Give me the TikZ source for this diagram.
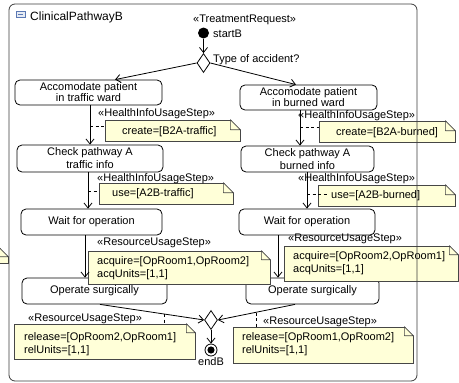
\documentclass[tikz,border=0pt]{standalone}
\usepackage{fontspec}
\setmainfont{Liberation Sans}
\usetikzlibrary{arrows.meta,shapes.geometric}

\definecolor{notefill}{RGB}{255,255,216}
\definecolor{noteline}{RGB}{70,70,70}
\definecolor{frameline}{RGB}{60,60,60}
\definecolor{iconblue}{RGB}{90,120,180}

% folded top-right corner of a note node (#1 = node name, #2 = fold size in pt)
\newcommand\notecorner[2]{%
  \fill[white] ([xshift=-#2pt,yshift=0.6pt]#1.north east) -- ([xshift=0.6pt,yshift=0.6pt]#1.north east)
      -- ([xshift=0.6pt,yshift=-#2pt]#1.north east) -- cycle;
  \draw[noteline,line width=0.6pt,line join=round]
      ([xshift=-#2pt]#1.north east) -- ([yshift=-#2pt]#1.north east)
      -- ([xshift=-#2pt,yshift=-#2pt]#1.north east) -- cycle;
}

\tikzset{
  every node/.style={inner sep=0pt, font=\fontsize{11}{12}\selectfont},
  actbox/.style={draw=black, fill=white, rounded corners=5pt, line width=0.8pt,
                 align=center, font=\fontsize{11}{11}\selectfont},
  notebox/.style={draw=noteline, fill=notefill, line width=0.6pt},
  txt/.style={anchor=base west},
  flow/.style={draw=black, line width=0.8pt, -{Straight Barb[length=5pt,width=8pt,line width=0.8pt]}},
  dep/.style={draw=black, line width=0.7pt, dash pattern=on 3pt off 2.5pt},
  decision/.style={diamond, draw=black, fill=white, line width=0.8pt,
                   minimum width=13pt, minimum height=19pt},
}

\begin{document}
\begin{tikzpicture}[x=1pt,y=-1pt]
\useasboundingbox (0,0) rectangle (459,383);

% ---- notes (drawn first, boxes and frame lie over them where they meet)
\node[notebox, minimum width=30pt, minimum height=15pt] (n0) at (-7,255.5) {};
\notecorner{n0}{9}

\node[notebox, minimum width=135pt, minimum height=21pt] (n1) at (172.5,130.5) {};
\notecorner{n1}{10}
\node[notebox, minimum width=136pt, minimum height=21pt] (n2) at (387,131.5) {};
\notecorner{n2}{10}
\node[notebox, minimum width=134pt, minimum height=21pt] (n3) at (166,193.5) {};
\notecorner{n3}{10}
\node[notebox, minimum width=137pt, minimum height=21pt] (n4) at (386.5,195.5) {};
\notecorner{n4}{10}

% ---- action nodes
\node[actbox, minimum width=147pt, minimum height=25pt] (a1) at (88.5,92.5)
  {Accomodate patient\\in traffic ward};
\node[actbox, minimum width=137pt, minimum height=25pt] (b1) at (308.5,97.5)
  {Accomodate patient\\in burned ward};
\node[actbox, minimum width=146pt, minimum height=27pt, font=\fontsize{11}{13}\selectfont]
  (a2) at (90,158.5) {Check pathway A\\traffic info};
\node[actbox, minimum width=133pt, minimum height=26pt, font=\fontsize{11}{13}\selectfont]
  (b2) at (307.5,159) {Check pathway A\\burned info};
\node[actbox, minimum width=141pt, minimum height=26pt] (a3) at (91.5,222) {Wait for operation};
\node[actbox, minimum width=136pt, minimum height=26pt] (b3) at (307,222) {Wait for operation};
\node[actbox, minimum width=145pt, minimum height=26pt] (a4) at (94.5,291) {Operate surgically};
\node[actbox, minimum width=133pt, minimum height=26pt] (b4) at (312.5,291) {Operate surgically};

% resource notes lie over the top of the "Operate surgically" boxes
\node[notebox, minimum width=182pt, minimum height=33pt] (n5) at (179,267.5) {};
\notecorner{n5}{9}
\node[notebox, minimum width=174pt, minimum height=35pt] (n6) at (371,263.5) {};
\notecorner{n6}{9}
\node[notebox, minimum width=181pt, minimum height=35pt] (n7) at (104.5,341.5) {};
\notecorner{n7}{9}
\node[notebox, minimum width=180pt, minimum height=36pt] (n8) at (323,345) {};
\notecorner{n8}{9}

% ---- note texts
\node[txt] (t1) at (122,134) {create=[B2A-traffic]};
\node[txt] (t2) at (336,135) {create=[B2A-burned]};
\node[txt] (t3) at (112,196) {use=[A2B-traffic]};
\node[txt] (t4) at (331,198) {use=[A2B-burned]};
\node[txt] (t5a) at (97,264) {acquire=[OpRoom1,OpRoom2]};
\node[txt] (t5b) at (97,277) {acqUnits=[1,1]};
\node[txt] (t6a) at (293,259) {acquire=[OpRoom2,OpRoom1]};
\node[txt] (t6b) at (293,272) {acqUnits=[1,1]};
\node[txt] (t7a) at (24,340) {release=[OpRoom2,OpRoom1]};
\node[txt] (t7b) at (24,353) {relUnits=[1,1]};
\node[txt] (t8a) at (242,340) {release=[OpRoom1,OpRoom2]};
\node[txt] (t8b) at (242,353) {relUnits=[1,1]};

% ---- stereotype labels
\node[txt] (s1) at (98,116) {«HealthInfoUsageStep»};
\node[txt] (s2) at (298,118) {«HealthInfoUsageStep»};
\node[txt] (s3) at (97,181) {«HealthInfoUsageStep»};
\node[txt] (s4) at (298,181) {«HealthInfoUsageStep»};
\node[txt] (s5) at (97,245) {«ResourceUsageStep»};
\node[txt] (s6) at (288,241) {«ResourceUsageStep»};
\node[txt] (s7) at (28,321) {«ResourceUsageStep»};
\node[txt] (s8) at (263,324) {«ResourceUsageStep»};

% ---- control nodes
\node[txt] (trq) at (193,22) {«TreatmentRequest»};
\node[circle, fill=black, minimum size=11pt] (start) at (203.5,33) {};
\node[txt] (startlbl) at (213,37) {startB};
\node[decision] (d1) at (203.5,63) {};
\node[txt] (q) at (213,62) {Type of accident?};
\node[decision] (m1) at (211,320) {};
\node[circle, draw=black, fill=white, line width=0.8pt, minimum size=12pt] (end) at (211,350) {};
\fill[black] (end.center) circle (3.6pt);
\node[anchor=base] (endlbl) at (211,365) {endB};

% ---- control flows
\draw[flow] (start) -- (d1);
\draw[flow] (d1.west) -- ([xshift=26.5pt]a1.north);
\draw[flow] (d1.east) -- ([xshift=-12.5pt]b1.north);
\draw[flow] ([xshift=1.5pt]a1.south) -- (a2.north);
\draw[flow] ([xshift=-2pt]a2.south) -- ([xshift=-3.5pt]a3.north);
\draw[flow] ([xshift=-6.5pt]a3.south) -- ([xshift=-9.5pt]a4.north);
\draw[flow] ([xshift=-8.5pt]b1.south) -- ([xshift=-7.5pt]b2.north);
\draw[flow] ([xshift=-0.5pt]b2.south) -- (b3.north);
\draw[flow] ([xshift=-29pt]b3.south) -- ([xshift=-34.5pt]b4.north);
\draw[flow] ([xshift=5.5pt]a4.south) -- (m1.west);
\draw[flow] ([xshift=-17.5pt]b4.south) -- (m1.east);
\draw[flow] (m1) -- (end);

% ---- note attachments
\coordinate (c1) at (90,126);
\coordinate (c2) at (88,191);
\coordinate (c3) at (300,127);
\coordinate (c4) at (307,194);
\coordinate (c4end) at (328,194);
\coordinate (c7) at (164,314);
\coordinate (c8) at (256,312.5);
\draw[dep] (c1) -- (c1 -| n1.west);
\draw[dep] (c2) -- (c2 -| n3.west);
\draw[dep] (c3) -- (c3 -| n2.west);
\draw[dep] (c4) -- (c4end);
\draw[dep] (c7) -- (c7 |- n7.north);
\draw[dep] (c8) -- (c8 |- n8.north);

% ---- activity frame with its name
\draw[frameline, line width=0.8pt, rounded corners=6pt] (9,4) rectangle (417,381);
\draw[iconblue, fill=iconblue!15, line width=0.5pt] (16,11.5) rectangle (25,17);
\draw[iconblue, line width=0.5pt] (18,14.2) -- (23,14.2);
\node[txt, font=\fontsize{12}{13}\selectfont] (title) at (30,20) {ClinicalPathwayB};
\end{tikzpicture}
\end{document}
